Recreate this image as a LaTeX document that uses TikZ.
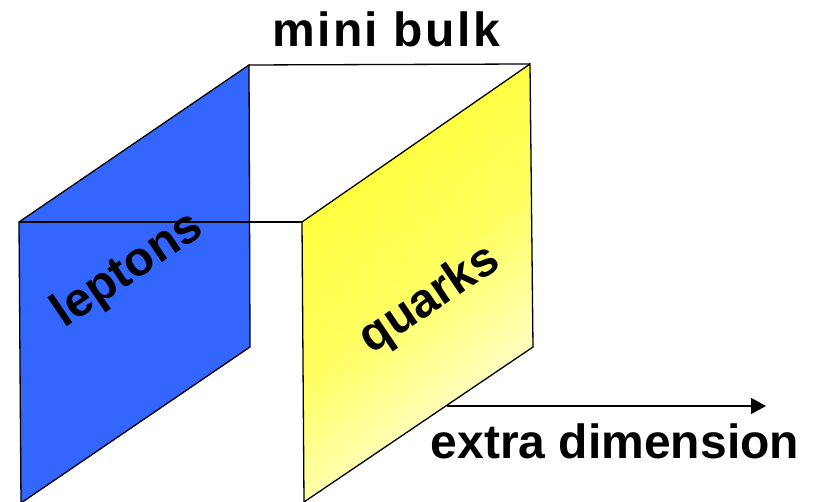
\documentclass[tikz,border=0pt]{standalone}
\usepackage{fontspec}
\setmainfont{Liberation Sans}
\usetikzlibrary{arrows.meta,positioning,calc}
\definecolor{branblue}{HTML}{3366FF}
\definecolor{branyellow}{HTML}{FFFF33}
\definecolor{branpale}{HTML}{FFFFE6}
\tikzset{
  brane/.style={draw=black,line width=1.3pt,line join=miter},
  label/.style={font=\fontsize{48}{52}\selectfont\bfseries,inner sep=0pt}
}
\begin{document}
\begin{tikzpicture}[x=1pt,y=1pt]
      \useasboundingbox (0,0) rectangle (815,502);
      \coordinate (l1) at (19,280);
      \coordinate (l2) at (249,437);
      \coordinate (l3) at (250,155);
      \coordinate (l4) at (21,-1);
      \coordinate (q1) at (302,280);
      \coordinate (q2) at (530,438);
      \coordinate (q3) at (533,155);
      \coordinate (q4) at (304,0);
      \fill[branblue] (l1) -- (l2) -- (l3) -- (l4) -- cycle;
      \draw[brane] (l1) -- (l2) -- (l3) -- (l4) -- cycle;
      \draw[brane] (l1) -- (q1);
      \draw[brane] (l2) -- (q2);
      \shade[top color=branyellow,bottom color=branpale,middle color=branyellow!75!branpale,shading angle=40] (q1) -- (q2) -- (q3) -- (q4) -- cycle;
      \draw[brane] (q1) -- (q2) -- (q3) -- (q4) -- cycle;
      \node[label,rotate=34] (leptons) at (128,273-42) {leptons};
      \node[label,rotate=34] (quarks) at (430,202) {quarks};
      \node[label,anchor=base] (bulk) at (386,455) {\addfontfeature{LetterSpace=5}mini bulk};
      \coordinate (d0) at (447,96);
      \coordinate (d1) at (766,96);
      \draw[line width=1.3pt,-{Triangle[length=15pt,width=16pt]}] (d0) -- (d1);
      \node[label,anchor=base] (extra) at (615,43) {extra dimension};
\end{tikzpicture}
\end{document}
